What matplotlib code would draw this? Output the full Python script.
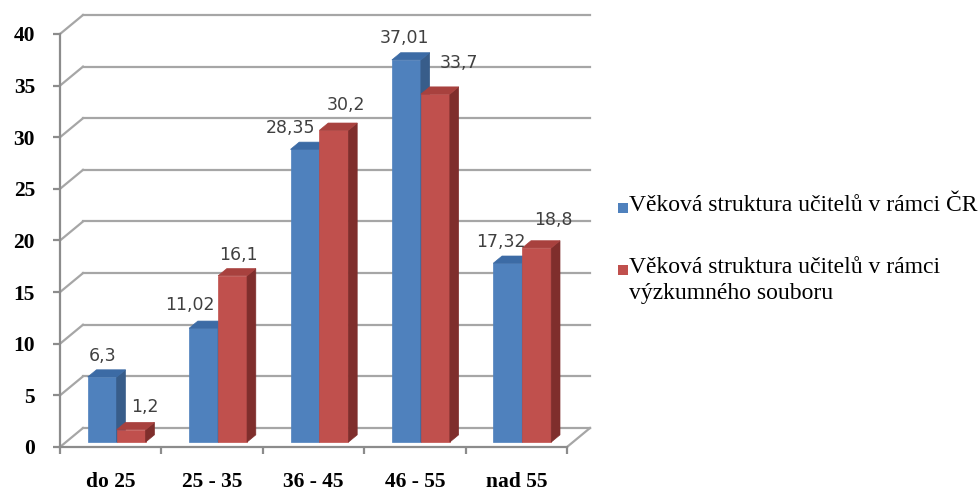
import matplotlib.pyplot as plt
from matplotlib.patches import Polygon, Rectangle

# age groups and shares (%) of teachers
categories = ['do 25', '25 - 35', '36 - 45', '46 - 55', 'nad 55']
cr_values = [6.3, 11.02, 28.35, 37.01, 17.32]
survey_values = [1.2, 16.1, 30.2, 33.7, 18.8]
series_labels = ['Věková struktura učitelů v rámci ČR',
                 'Věková struktura učitelů v rámci\nvýzkumného souboru']
value_ticks = [0, 5, 10, 15, 20, 25, 30, 35, 40]

# label offsets in pixels (x, y) from the top front edge of each bar
cr_nudge = [(0, 21), (-14, 23), (-14, 21), (-2, 22), (-7, 21)]
survey_nudge = [(14, 23), (6, 21), (12, 25), (24, 31), (17, 28)]

# face colours: front, side, top
blue = ('#4F81BD', '#385D8A', '#3C6BA5')
red = ('#C0504D', '#7F2E2C', '#A8413E')
grid_col = '#A6A6A6'
axis_col = '#8C8C8C'

W, H = 980, 493
fig = plt.figure(figsize=(W / 100, H / 100), dpi=100)
ax = fig.add_axes([60 / W, 1 - 447 / H, (567 - 60) / W, (447 - 34) / H])
ax.set_xlim(0, len(categories))
ax.set_ylim(0, 40)

# depth of the 3d box converted from pixels to data units
px_x = (567 - 60) / len(categories)
px_y = (447 - 34) / 40
DX, DY = 23 / px_x, 19 / px_y

# side wall and back wall gridlines
for v in value_ticks:
    ax.plot([0, DX], [v, v + DY], color=grid_col, lw=1.6, clip_on=False, zorder=1)
    ax.plot([DX, len(categories) + DX], [v + DY, v + DY], color=grid_col, lw=1.6,
            clip_on=False, zorder=1)
ax.plot([len(categories), len(categories) + DX], [0, DY], color=grid_col, lw=1.6,
        clip_on=False, zorder=1)

bar_w = 1 / 3.5
f1, f2 = 0.26, 0.64


def draw_bar(x0, val, cols):
    x1 = x0 + bar_w
    ax1, ay1 = f1 * DX, f1 * DY
    ax2, ay2 = f2 * DX, f2 * DY
    front = [(x0 + ax1, ay1), (x1 + ax1, ay1), (x1 + ax1, val + ay1), (x0 + ax1, val + ay1)]
    side = [(x1 + ax1, ay1), (x1 + ax2, ay2), (x1 + ax2, val + ay2), (x1 + ax1, val + ay1)]
    top = [(x0 + ax1, val + ay1), (x1 + ax1, val + ay1), (x1 + ax2, val + ay2), (x0 + ax2, val + ay2)]
    for pts, c in zip((front, side, top), cols):
        ax.add_patch(Polygon(pts, closed=True, facecolor=c, edgecolor=c, lw=0.5,
                             clip_on=False, zorder=2))
    return (x0 + x1) / 2 + ax1, val + ay1


for i in range(len(categories)):
    x0 = i + (1 - 2 * bar_w) / 2
    for j, (val, cols, nudge) in enumerate([(cr_values[i], blue, cr_nudge[i]),
                                            (survey_values[i], red, survey_nudge[i])]):
        cx, cy = draw_bar(x0 + j * bar_w, val, cols)
        ax.annotate(f'{val:g}'.replace('.', ','), xy=(cx, cy), xytext=nudge,
                    textcoords='offset pixels', ha='center', va='center',
                    fontsize=12.5, color='#404040', zorder=5, annotation_clip=False)

# axes
for s in ['top', 'right']:
    ax.spines[s].set_visible(False)
for s in ['left', 'bottom']:
    ax.spines[s].set_color(axis_col)
    ax.spines[s].set_linewidth(1.6)
    ax.spines[s].set_zorder(3)

tick_font = dict(family='Liberation Serif', weight='bold', size=15.5)
ax.set_yticks(value_ticks)
ax.set_yticklabels([str(v) for v in value_ticks], fontdict=tick_font)
ax.tick_params(axis='y', direction='out', length=5, width=1.6, color=axis_col, pad=13)

ax.set_xticks(range(len(categories) + 1))
ax.set_xticklabels([])
ax.set_xticks([i + 0.5 for i in range(len(categories))], minor=True)
ax.set_xticklabels(categories, minor=True, fontdict=tick_font)
ax.tick_params(axis='x', which='major', direction='out', length=5, width=1.6, color=axis_col)
ax.tick_params(axis='x', which='minor', length=0, pad=18)

# legend
leg_font = dict(family='Liberation Serif', size=17)
for (cols, label, y) in [(blue, series_labels[0], 208), (red, series_labels[1], 270)]:
    fig.patches.append(Rectangle((618 / W, 1 - (y + 5) / H), 10 / W, 10 / H,
                                 transform=fig.transFigure, facecolor=cols[0],
                                 edgecolor='none'))
    fig.text(629 / W, 1 - (y - 13) / H, label, ha='left', va='top', linespacing=1.3,
             fontdict=leg_font, color='black')

fig.savefig('out.png', dpi=100)
